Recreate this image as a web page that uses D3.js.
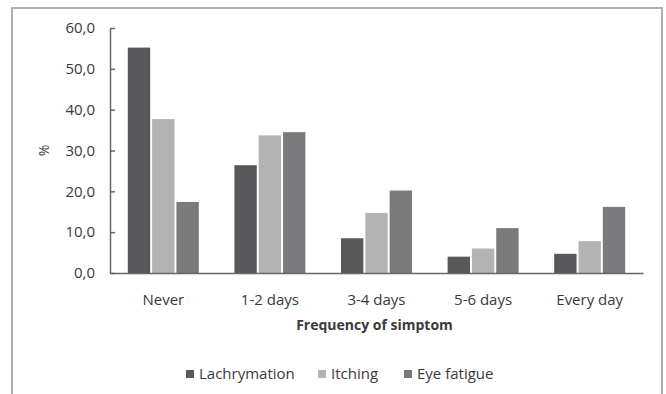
<!DOCTYPE html>
<html>
<head>
<meta charset="utf-8">
<script src="https://cdn.jsdelivr.net/npm/d3@7"></script>
<style>
  body { margin: 0; background: #fff; }
  svg text { font-family: "Open Sans", "Noto Sans", sans-serif; fill: #3a3a3a; }
</style>
</head>
<body>
<div id="chart"></div>
<script>
// data
var categories = ["Never", "1-2 days", "3-4 days", "5-6 days", "Every day"];
var seriesNames = ["Lachrymation", "Itching", "Eye fatigue"];
var lachrymation = [55.2, 26.4, 8.5, 4.0, 4.7];
var itching = [37.7, 33.7, 14.7, 6.0, 7.8];
var eyeFatigue = [17.4, 34.5, 20.2, 11.0, 16.2];
var yTicks = [0, 10, 20, 30, 40, 50, 60];
var colors = ["#58585a", "#b3b3b3", "#7b7b7d"];

var values = [lachrymation, itching, eyeFatigue];
var data = categories.map(function (c, i) {
    return { cat: c, vals: seriesNames.map(function (s, j) { return { name: s, v: values[j][i], k: j }; }) };
});

var W = 666, H = 394;
var margin = { top: 28, left: 110, right: 23, bottom: 121 },
    width = W - margin.left - margin.right,
    height = H - margin.top - margin.bottom;

var root = d3.select('#chart').append('svg')
    .attr('width', W)
    .attr('height', H);

// outer frame
root.append('rect')
    .attr('x', 12).attr('y', 8)
    .attr('width', 650).attr('height', 400)
    .attr('fill', '#fff')
    .attr('stroke', '#b0b0b0')
    .attr('stroke-width', 2);

var svg = root.append('g')
    .attr('transform', 'translate(' + margin.left + ',' + margin.top + ')');

var x0 = d3.scaleBand()
    .domain(categories)
    .range([0, width])
    .paddingInner(0.334)
    .paddingOuter(0.167);

var x1 = d3.scaleBand()
    .domain(seriesNames)
    .range([0, x0.bandwidth()])
    .paddingInner(0.08);

var y = d3.scaleLinear()
    .domain([0, 60])
    .range([height, 0]);

// bars
var groups = svg.selectAll('.group')
    .data(data)
    .enter().append('g')
    .attr('class', 'group')
    .attr('transform', function (d) { return 'translate(' + x0(d.cat) + ',0)'; });

groups.selectAll('rect')
    .data(function (d) { return d.vals; })
    .enter().append('rect')
    .attr('x', function (d) { return x1(d.name); })
    .attr('y', function (d) { return y(d.v); })
    .attr('width', x1.bandwidth())
    .attr('height', function (d) { return height - y(d.v); })
    .attr('fill', function (d) { return colors[d.k]; });

// y axis
var yAxis = d3.axisLeft(y)
    .tickValues(yTicks)
    .tickSizeInner(-5)
    .tickSizeOuter(0)
    .tickPadding(15)
    .tickFormat(function (d) { return d3.format('.1f')(d).replace('.', ','); });

var gy = svg.append('g')
    .attr('class', 'y_axis')
    .call(yAxis);
gy.select('.domain').attr('stroke', '#666').attr('stroke-width', 1.5);
gy.selectAll('.tick line').attr('stroke', '#666').attr('stroke-width', 1.5);
gy.selectAll('text').style('font-size', '15px').attr('fill', '#3a3a3a');

// x axis
var xAxis = d3.axisBottom(x0)
    .tickSize(0)
    .tickPadding(21);

var gx = svg.append('g')
    .attr('class', 'x_axis')
    .attr('transform', 'translate(0,' + height + ')')
    .call(xAxis);
gx.select('.domain').attr('stroke', '#666').attr('stroke-width', 1.5);
gx.selectAll('text').style('font-size', '15px').attr('fill', '#3a3a3a');

// axis titles
svg.append('text')
    .attr('x', width / 2 - 2)
    .attr('y', height + 57)
    .attr('text-anchor', 'middle')
    .style('font-size', '14px')
    .style('font-weight', 'bold')
    .text('Frequency of simptom');

svg.append('text')
    .attr('transform', 'translate(' + (-66) + ',' + (height / 2) + ') rotate(-90)')
    .attr('text-anchor', 'middle')
    .attr('dy', '0.35em')
    .style('font-size', '14px')
    .text('%');

// legend
var legendX = [186, 318, 404];
var legend = root.selectAll('.legend')
    .data(seriesNames)
    .enter().append('g')
    .attr('class', 'legend')
    .attr('transform', function (d, i) { return 'translate(' + legendX[i] + ',370)'; });

legend.append('rect')
    .attr('width', 8).attr('height', 8)
    .attr('fill', function (d, i) { return colors[i]; });

legend.append('text')
    .attr('x', 13)
    .attr('y', 9)
    .style('font-size', '15px')
    .text(function (d) { return d; });
</script>
</body>
</html>
